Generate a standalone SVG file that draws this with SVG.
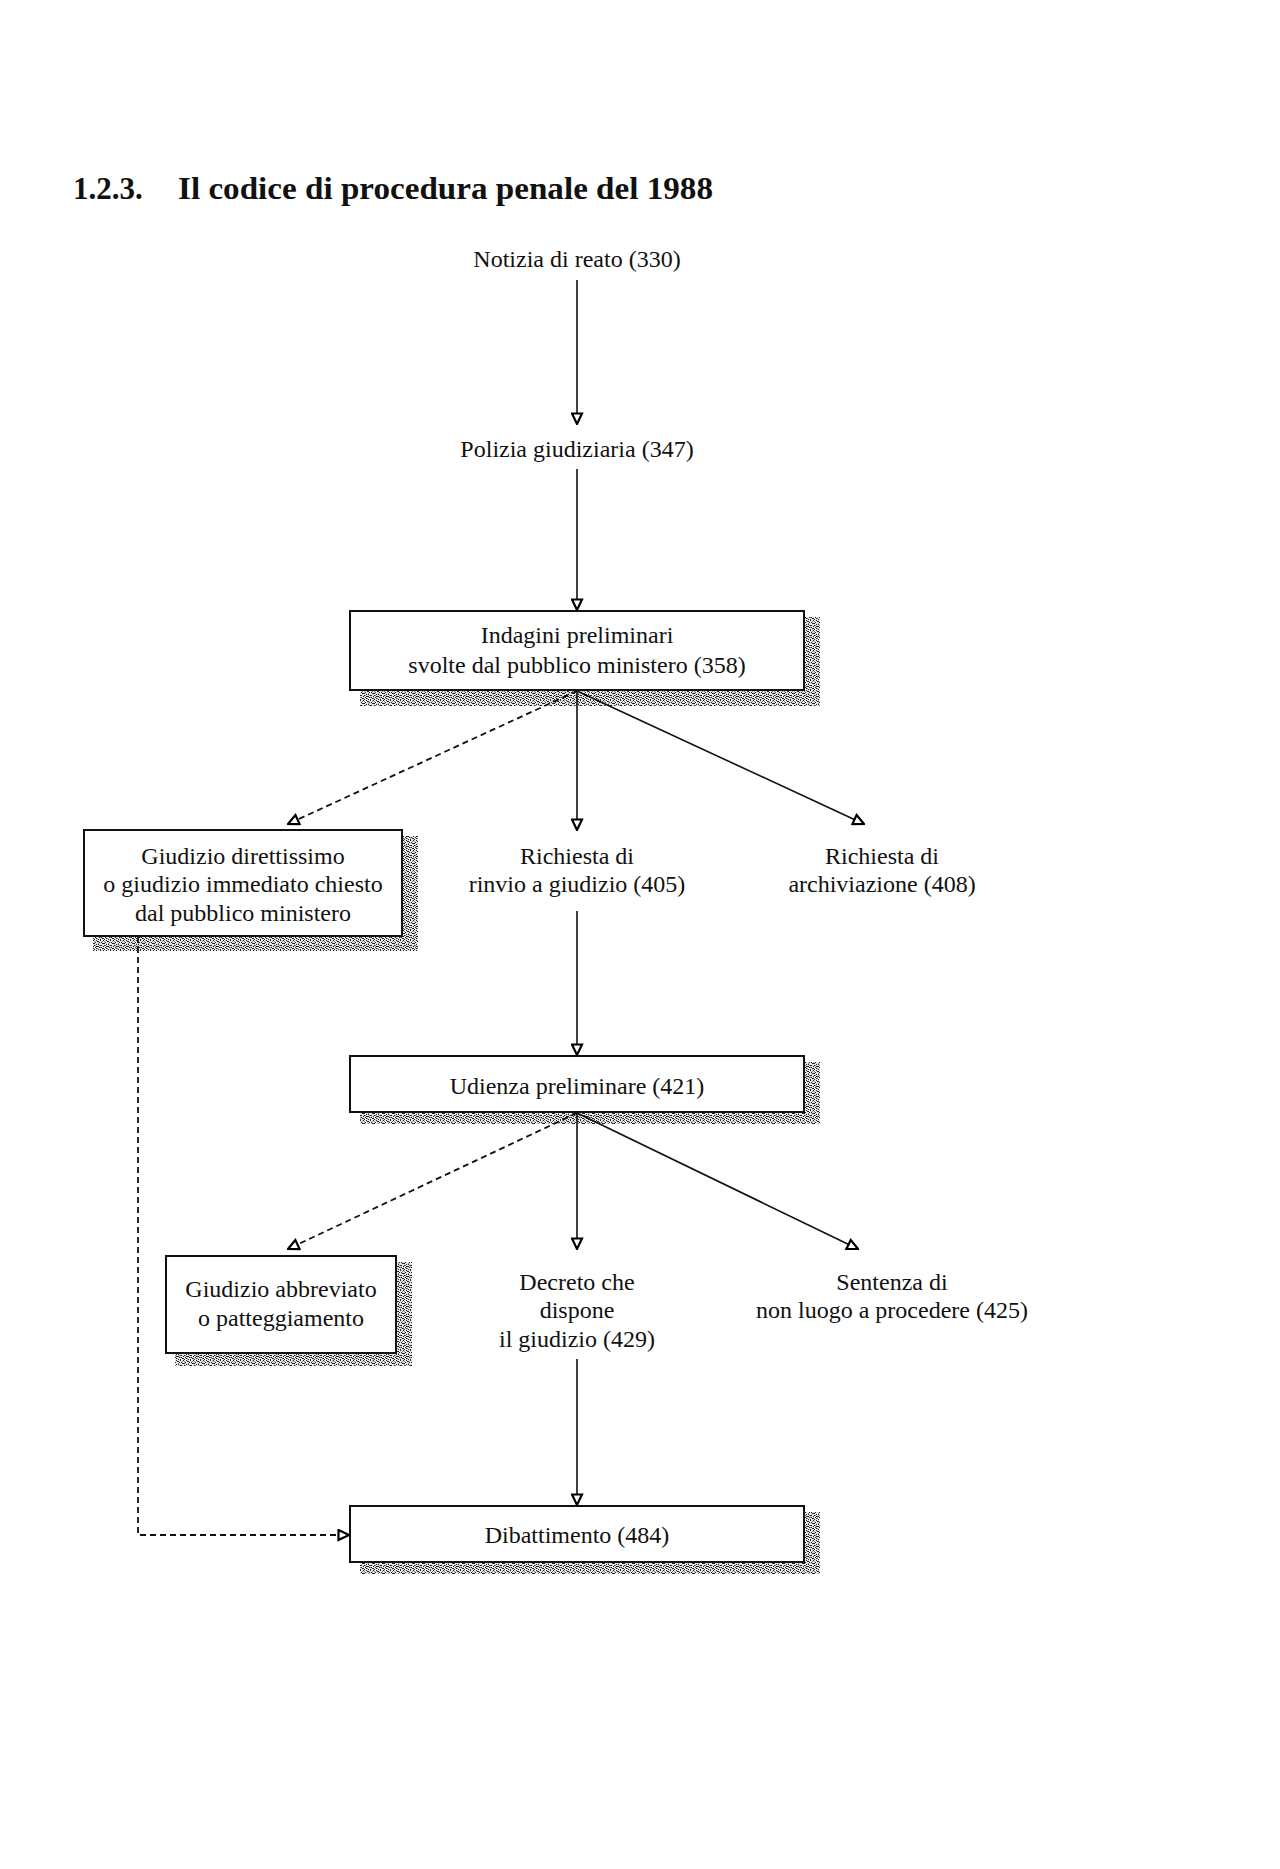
<svg xmlns="http://www.w3.org/2000/svg" width="1280" height="1869" viewBox="0 0 1280 1869">
<defs>
<pattern id="grain" width="10" height="10" patternUnits="userSpaceOnUse">
<rect width="10" height="10" fill="#e4e4e4"/>
<path fill="#222" d="M0,0h1v1h-1zM3,0h1v1h-1zM7,1h2v1h-2zM1,2h1v1h-1zM5,2h1v1h-1zM9,2h1v1h-1zM2,3h2v1h-2zM6,4h1v1h-1zM8,4h1v1h-1zM0,5h1v1h-1zM4,5h1v1h-1zM3,6h1v1h-1zM7,6h2v1h-2zM1,7h1v1h-1zM5,7h1v1h-1zM9,7h1v1h-1zM2,8h1v1h-1zM6,8h1v1h-1zM8,9h1v1h-1zM4,9h1v1h-1zM0,9h1v1h-1zM6,0h1v1h-1zM4,3h1v1h-1zM1,5h1v1h-1zM6,6h1v1h-1zM3,8h1v1h-1z"/>
<path fill="#888" d="M2,1h1v1h-1zM8,3h1v1h-1zM5,5h1v1h-1zM0,7h1v1h-1zM7,8h1v1h-1zM4,1h1v1h-1zM9,5h1v1h-1z"/>
</pattern>
<marker id="arr" viewBox="0 0 13 13" refX="12" refY="6.5" markerWidth="13" markerHeight="13" markerUnits="userSpaceOnUse" orient="auto">
<path d="M1.5,1.5 L12,6.5 L1.5,11.5 Z" fill="#fff" stroke="#000" stroke-width="2.2" stroke-linejoin="miter"/>
</marker>
</defs>
<style>
text{font-family:"Liberation Serif","Times New Roman",serif;font-size:24px;fill:#111;text-anchor:middle}
.title{font-size:31px;font-weight:bold;text-anchor:start}
.box{fill:#fff;stroke:#111;stroke-width:2}
.shadow{fill:url(#grain)}
.c{fill:none;stroke:#111;stroke-width:1.6;marker-end:url(#arr)}
.d{stroke-dasharray:6 4;stroke-width:1.8}
</style>
<rect width="1280" height="1869" fill="#fff"/>
<g id="title">
<text class="title" x="73" y="199">1.2.3.</text>
<text class="title" x="178" y="199" textLength="535" lengthAdjust="spacingAndGlyphs">Il codice di procedura penale del 1988</text>
</g>
<g id="n-notizia"><text x="577" y="267">Notizia di reato (330)</text></g>
<g id="n-polizia"><text x="577" y="457">Polizia giudiziaria (347)</text></g>
<g id="n-indagini">
<rect class="shadow" x="360" y="617" width="460" height="89"/>
<rect class="box" x="350" y="611" width="454" height="79"/>
<text x="577" y="643">Indagini preliminari</text>
<text x="577" y="673">svolte dal pubblico ministero (358)</text>
</g>
<g id="n-direttissimo">
<rect class="shadow" x="93" y="836" width="325" height="115"/>
<rect class="box" x="84" y="830" width="318" height="106"/>
<text x="243" y="864">Giudizio direttissimo</text>
<text x="243" y="892">o giudizio immediato chiesto</text>
<text x="243" y="921">dal pubblico ministero</text>
</g>
<g id="n-rinvio">
<text x="577" y="864">Richiesta di</text>
<text x="577" y="892">rinvio a giudizio (405)</text>
</g>
<g id="n-archiviazione">
<text x="882" y="864">Richiesta di</text>
<text x="882" y="892">archiviazione (408)</text>
</g>
<g id="n-udienza">
<rect class="shadow" x="360" y="1062" width="460" height="62"/>
<rect class="box" x="350" y="1056" width="454" height="56"/>
<text x="577" y="1094">Udienza preliminare (421)</text>
</g>
<g id="n-abbreviato">
<rect class="shadow" x="175" y="1262" width="237" height="104"/>
<rect class="box" x="166" y="1256" width="230" height="97"/>
<text x="281" y="1297">Giudizio abbreviato</text>
<text x="281" y="1326">o patteggiamento</text>
</g>
<g id="n-decreto">
<text x="577" y="1290">Decreto che</text>
<text x="577" y="1318">dispone</text>
<text x="577" y="1347">il giudizio (429)</text>
</g>
<g id="n-sentenza">
<text x="892" y="1290">Sentenza di</text>
<text x="892" y="1318">non luogo a procedere (425)</text>
</g>
<g id="n-dibattimento">
<rect class="shadow" x="360" y="1512" width="460" height="62"/>
<rect class="box" x="350" y="1506" width="454" height="56"/>
<text x="577" y="1543">Dibattimento (484)</text>
</g>
<g id="connectors">
<line class="c" x1="577" y1="280" x2="577" y2="424"/>
<line class="c" x1="577" y1="469" x2="577" y2="610"/>
<line class="c d" x1="577" y1="691" x2="288" y2="824"/>
<line class="c" x1="577" y1="691" x2="577" y2="830"/>
<line class="c" x1="577" y1="691" x2="864" y2="824"/>
<line class="c" x1="577" y1="911" x2="577" y2="1055"/>
<line class="c d" x1="577" y1="1113" x2="288" y2="1249"/>
<line class="c" x1="577" y1="1113" x2="577" y2="1249"/>
<line class="c" x1="577" y1="1113" x2="858" y2="1249"/>
<line class="c" x1="577" y1="1359" x2="577" y2="1505"/>
<polyline class="c d" points="138,937 138,1535 349,1535"/>
</g>
</svg>
